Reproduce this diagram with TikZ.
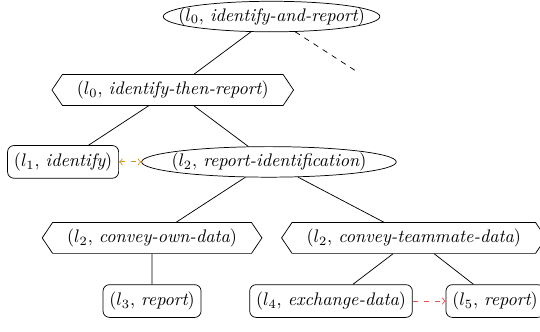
\documentclass[tikz,border=0pt]{standalone}
\usepackage{amsmath}
\usepackage{xcolor}
\usepackage{tikz}
\usetikzlibrary{shapes.geometric, shapes.symbols, arrows}

\definecolor{altgold}{RGB}{215,150,25}
\definecolor{seqred}{RGB}{240,80,80}

\begin{document}
\begin{tikzpicture}[
    goal/.style={draw, ellipse, inner ysep=0.5pt, minimum height=16.8pt},
    plan/.style={draw, signal, signal to=west and east, signal pointer angle=112,
        inner xsep=8pt, inner ysep=3.5pt, minimum height=17pt},
    act/.style={draw, rounded corners=3.5pt, inner xsep=3.5pt, minimum height=18pt}]
    \useasboundingbox (0,0) rectangle (10.44,6.40);
    \node[goal, inner xsep=-9.2pt] (top) at (5.25,6.08) {$(l_0,\,\textit{identify-and-report})$};
    \node[plan] (itr) at (3.34,4.66) {$(l_0,\,\textit{identify-then-report})$};
    \node[act] (id) at (1.22,3.27) {$(l_1,\,\textit{identify})$};
    \node[goal, inner xsep=-4.1pt] (rid) at (5.20,3.27) {$(l_2,\,\textit{report-identification})$};
    \node[plan] (own) at (2.94,1.80) {$(l_2,\,\textit{convey-own-data})$};
    \node[plan] (mate) at (8.00,1.80) {$(l_2,\,\textit{convey-teammate-data})$};
    \node[act] (rep3) at (2.94,0.58) {$(l_3,\,\textit{report})$};
    \node[act] (ex) at (6.40,0.58) {$(l_4,\,\textit{exchange-data})$};
    \node[act] (rep5) at (9.57,0.58) {$(l_5,\,\textit{report})$};
    \coordinate (more) at (6.94,4.99);

    \draw (top) -- (itr);
    \draw[dashed] (top) -- (more);
    \foreach \a/\b in {itr/id, itr/rid, rid/own, rid/mate, own/rep3, mate/ex, mate/rep5}
        \draw (\a) -- (\b);
    \draw[<->, >=to, dashed, altgold, line width=0.5pt] (id) -- (rid);
    \draw[->, >=to, dashed, seqred, line width=0.5pt] (ex) -- (rep5);
\end{tikzpicture}
\end{document}
